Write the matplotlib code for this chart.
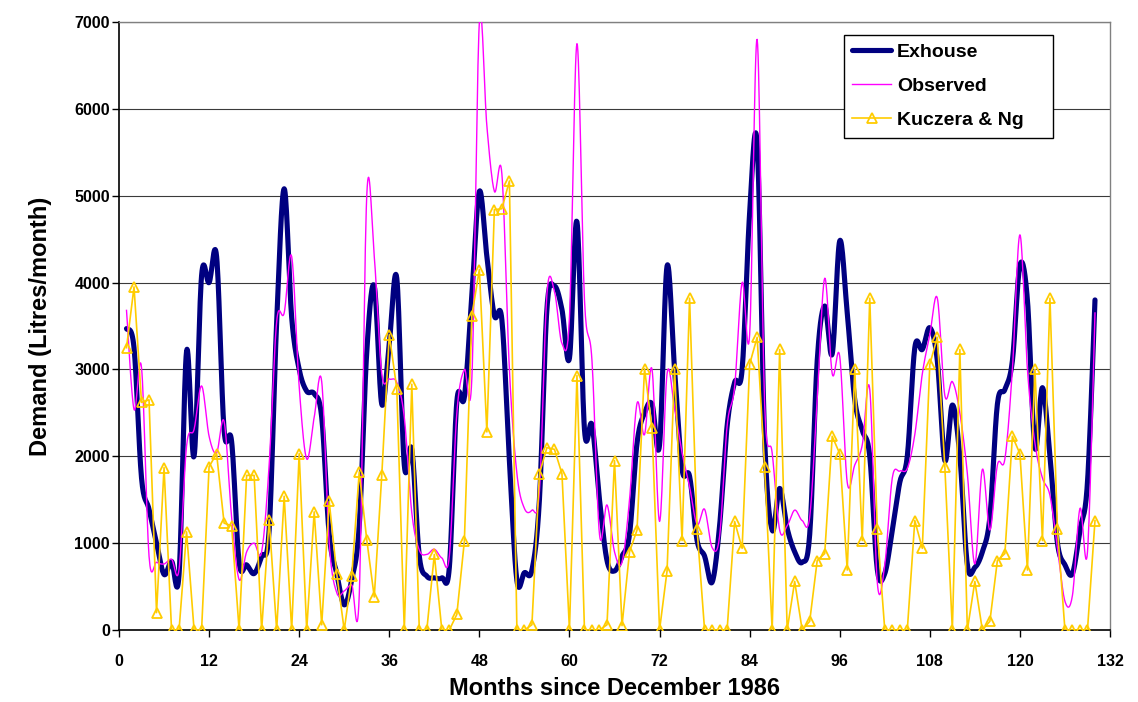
import numpy as np
import matplotlib
matplotlib.use("Agg")
import matplotlib.pyplot as plt

months = list(range(1, 131))

exhouse = [3470, 3250, 1750, 1390, 1000, 640, 790, 640, 3210, 2000,
           4080, 4000, 4300, 2300, 2170, 780, 750, 650, 850, 1150,
           3550, 5080, 3600, 3000, 2750, 2720, 2450, 1100, 650, 290,
           580, 1200, 3200, 3960, 2600, 3300, 4050, 1900, 2080, 850,
           620, 600, 600, 720, 2630, 2680, 3850, 5050, 4300, 3620,
           3570, 1950, 570, 660, 690, 1500, 3700, 3960, 3690, 3130,
           4700, 2310, 2360, 1500, 800, 680, 850, 1100, 2150, 2500,
           2600, 2130, 4190, 3000, 1850, 1770, 1030, 850, 550, 1200,
           2350, 2850, 3000, 4800, 5600, 2200, 1150, 1630, 1170, 900,
           780, 1100, 3100, 3730, 3180, 4480, 3650, 2650, 2300, 2000,
           700, 650, 1150, 1700, 2000, 3250, 3230, 3480, 3100, 1950,
           2590, 2000, 750, 720, 900, 1300, 2600, 2770, 3100, 4200,
           3800, 2100, 2790, 2000, 1000, 750, 650, 1150, 1700, 3800]

observed = [3680, 2540, 3020, 850, 780, 760, 815, 700, 2120, 2310,
            2810, 2230, 2040, 2400, 1300, 580, 900, 1000, 900, 1900,
            3550, 3650, 4300, 2800, 1970, 2450, 2860, 1000, 430, 450,
            520, 400, 5000, 4300, 2950, 2890, 2850, 2450, 1350, 920,
            870, 930, 830, 850, 2500, 3000, 2900, 7000, 5800, 5050,
            5250, 3000, 1800, 1400, 1380, 1600, 3870, 3900, 3300, 3600,
            6750, 3800, 3100, 1100, 1440, 900, 780, 1500, 2610, 2250,
            3000, 1250, 2950, 2550, 2040, 1650, 1215, 1390, 950, 1080,
            2350, 2800, 4000, 3400, 6800, 2600, 2040, 1150, 1200, 1380,
            1260, 1300, 2650, 4050, 2950, 3150, 1700, 1900, 2130, 2770,
            550, 750, 1750, 1830, 1860, 2250, 2950, 3400, 3820, 2700,
            2860, 2500, 1800, 760, 1850, 1150, 1900, 1970, 3000, 4550,
            3000, 2150, 1750, 1550, 950, 330, 400, 1400, 900, 3650]

kuczera = [3250, 3950, 2620, 2650, 200, 1870, 0, 0, 1130, 0,
           0, 1880, 2030, 1230, 1200, 0, 1780, 1780, 0, 1270,
           0, 1540, 0, 2030, 0, 1360, 60, 1480, 650, 0,
           620, 1820, 1040, 380, 1780, 3400, 2780, 0, 2830, 0,
           0, 870, 0, 0, 180, 1020, 3620, 4150, 2280, 4840,
           4850, 5170, 0, 0, 60, 1800, 2100, 2080, 1800, 0,
           2930, 0, 0, 0, 60, 1950, 50, 900, 1150, 3010,
           2320, 0, 680, 3010, 1030, 3820, 1160, 0, 0, 0,
           0, 1250, 940, 3060, 3370, 1880, 0, 3230, 0, 560,
           0, 100, 800, 880, 2230, 2030, 690, 3000, 1030, 3820,
           1160, 0, 0, 0, 0, 1260, 940, 3060, 3370, 1880,
           0, 3230, 0, 560, 0, 100, 800, 880, 2230, 2030,
           690, 3000, 1030, 3820, 1160, 0, 0, 0, 0, 1260]

series_names = ["Exhouse", "Observed", "Kuczera & Ng"]
x_ticks = list(range(0, 133, 12))
y_ticks = list(range(0, 7001, 1000))


def smooth(x, y, steps=16):
    """Catmull-Rom smoothing (same idea as a spreadsheet 'smoothed line')."""
    x = np.asarray(x, float)
    y = np.asarray(y, float)
    xp = np.concatenate([[x[0]], x, [x[-1]]])
    yp = np.concatenate([[y[0]], y, [y[-1]]])
    t = np.linspace(0, 1, steps, endpoint=False)
    h00 = 2 * t**3 - 3 * t**2 + 1
    h10 = t**3 - 2 * t**2 + t
    h01 = -2 * t**3 + 3 * t**2
    h11 = t**3 - t**2
    ox, oy = [], []
    for i in range(len(x) - 1):
        mx1 = (xp[i + 2] - xp[i]) / 2
        mx2 = (xp[i + 3] - xp[i + 1]) / 2
        my1 = (yp[i + 2] - yp[i]) / 2
        my2 = (yp[i + 3] - yp[i + 1]) / 2
        ox.append(h00 * xp[i + 1] + h10 * mx1 + h01 * xp[i + 2] + h11 * mx2)
        oy.append(h00 * yp[i + 1] + h10 * my1 + h01 * yp[i + 2] + h11 * my2)
    ox.append([x[-1]])
    oy.append([y[-1]])
    return np.concatenate(ox), np.concatenate(oy)


plt.rcParams["font.family"] = ["Liberation Sans", "DejaVu Sans"]
plt.rcParams["font.weight"] = "bold"

fig = plt.figure(figsize=(11.38, 7.02), dpi=100)
ax = fig.add_axes([119 / 1138, 1 - 630 / 702, (1110 - 119) / 1138, (630 - 22) / 702])

ax.set_xlim(0, 132)
ax.set_ylim(0, 7000)

for yv in y_ticks[1:]:
    ax.axhline(yv, color="#3a3a3a", lw=0.8, zorder=1)

sx, sy = smooth(months, exhouse)
ax.plot(sx, sy, color="#000080", lw=3.7, solid_capstyle="round",
        solid_joinstyle="round", label=series_names[0], zorder=3)
ox, oy = smooth(months, observed)
ax.plot(ox, oy, color="#FF00FF", lw=1.0, label=series_names[1], zorder=4)
ax.plot(months, kuczera, color="#FFCC00", lw=1.2, marker="^", markersize=7,
        markerfacecolor="none", markeredgecolor="#FFCC00", markeredgewidth=1.3,
        label=series_names[2], zorder=5)

ax.set_xticks(x_ticks)
ax.set_yticks(y_ticks)
ax.tick_params(axis="x", direction="out", length=5, width=1, pad=12,
               labelsize=11.5)
ax.tick_params(axis="y", direction="out", length=5, width=1, pad=1.5,
               labelsize=11.5)
for lab in ax.get_xticklabels() + ax.get_yticklabels():
    lab.set_fontweight("bold")

for side in ["left", "bottom"]:
    ax.spines[side].set_color("black")
    ax.spines[side].set_linewidth(1.2)
for side in ["top", "right"]:
    ax.spines[side].set_color("#808080")
    ax.spines[side].set_linewidth(1.0)

ax.set_xlabel("Months since December 1986", fontsize=17, fontweight="bold",
              labelpad=6)
ax.set_ylabel("Demand (Litres/month)", fontsize=17, fontweight="bold",
              labelpad=16)

leg = ax.legend(loc="upper left",
                bbox_to_anchor=(844 / 1138, 1 - 137 / 702, 209 / 1138, 102 / 702),
                bbox_transform=fig.transFigure, borderaxespad=0,
                mode="expand",
                fancybox=False, framealpha=1, edgecolor="black",
                handlelength=2.0, labelspacing=0.85,
                borderpad=0.43, handletextpad=0.3,
                prop={"weight": "bold", "size": 14})
leg.get_frame().set_linewidth(1.0)
leg.set_zorder(10)

fig.savefig("out.png", dpi=100, facecolor="white")
